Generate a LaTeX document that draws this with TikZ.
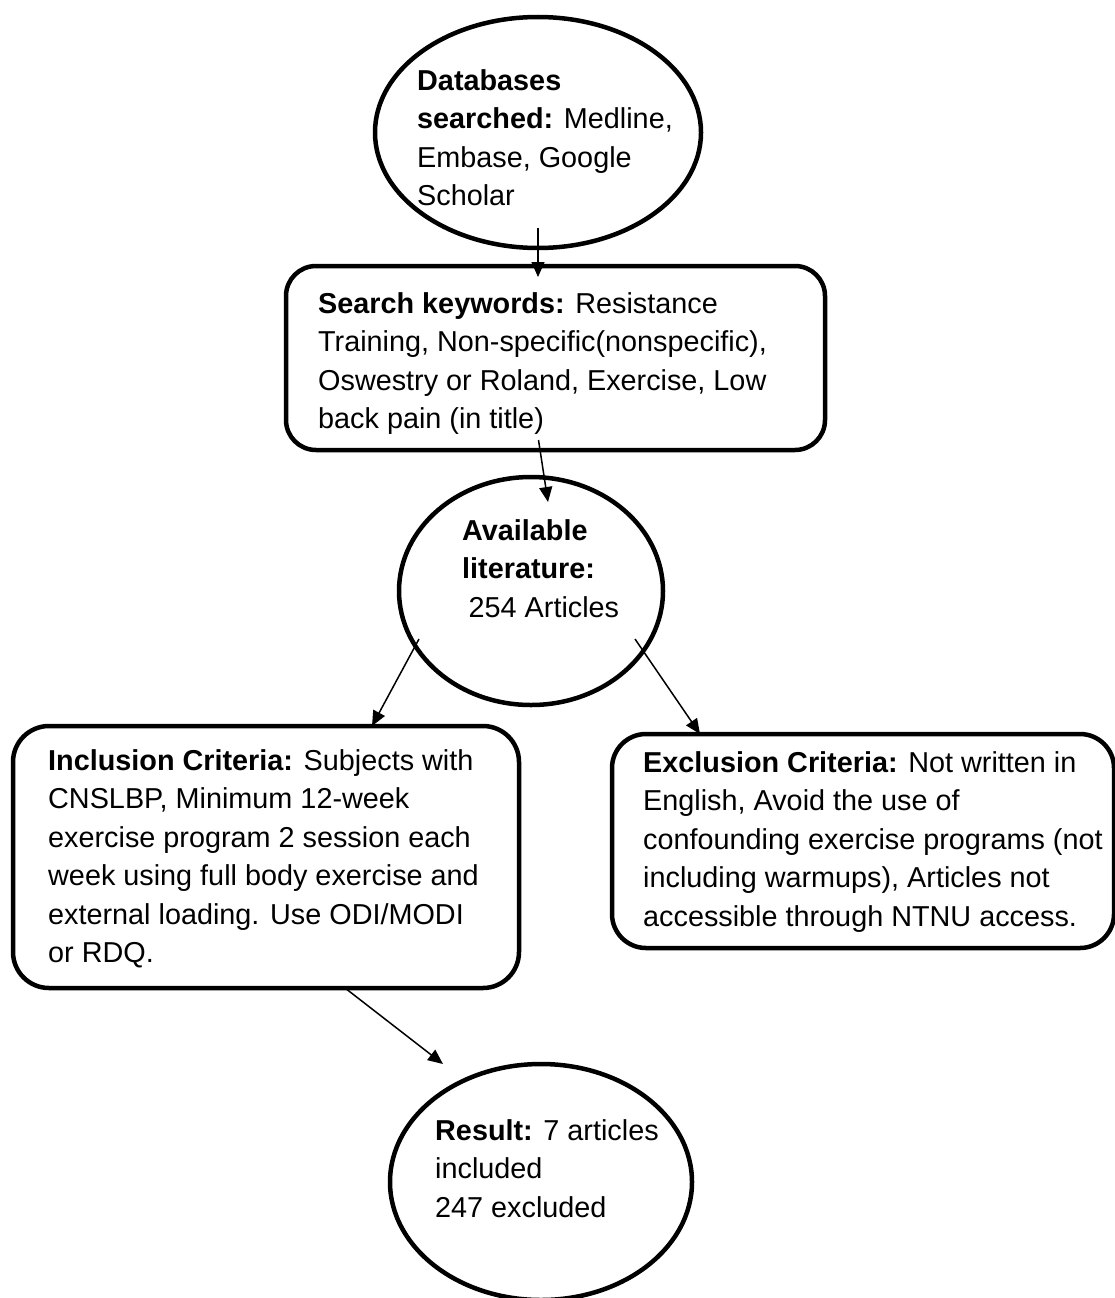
\documentclass[tikz,border=0pt]{standalone}
\usepackage{fontspec}
\setmainfont{Liberation Sans}
\usetikzlibrary{shapes.geometric, arrows.meta, positioning}
\newcommand{\flowfont}{\fontsize{28.8pt}{38.5pt}\selectfont}
\tikzset{
    oval/.style={
        ellipse,
        draw,
        line width=4.5pt,
        inner sep=0pt,
        outer sep=0pt
    },
    roundbox/.style={
        rectangle,
        rounded corners=#1,
        draw,
        line width=4.5pt,
        inner sep=0pt,
        outer sep=0pt
    },
    roundbox/.default=34pt,
    txt/.style={
        anchor=north west,
        inner sep=0pt,
        align=left,
        font=\flowfont
    },
    flow/.style={
        -{Triangle[length=15pt, width=13pt]},
        line width=1.5pt
    }
}

\begin{document}
\begin{tikzpicture}[x=1pt, y=-1pt]
    \useasboundingbox (0,0) rectangle (1115,1298);

    % Shapes
    \node (dbs) [oval, minimum width=326pt, minimum height=231pt] at (538,132.5) {};
    \node (search) [roundbox=30pt, minimum width=539pt, minimum height=184pt] at (555.5,358) {};
    \node (lit) [oval, minimum width=264pt, minimum height=228pt] at (531,591) {};
    \node (incl) [roundbox=36pt, minimum width=506pt, minimum height=262pt] at (266,857) {};
    \node (excl) [roundbox, minimum width=502pt, minimum height=214pt] at (863,841) {};
    \node (res) [oval, minimum width=302pt, minimum height=236pt] at (541,1182) {};

    % Texts
    \node (dbstext) [txt] at ([shift={(-121,-63.3)}]dbs.center)
        {\textbf{Databases}\\\textbf{searched:} Medline,\\Embase, Google\\Scholar};
    \node (searchtext) [txt] at ([shift={(32,26.2)}]search.north west)
        {\textbf{Search keywords:} Resistance\\Training, Non-specific(nonspecific),\\Oswestry or Roland, Exercise, Low\\back pain (in title)};
    \node (littext) [txt] at ([shift={(-69,-71.8)}]lit.center)
        {\textbf{Available}\\\textbf{literature:}\\\hspace*{6.5pt}254 Articles};
    \node (incltext) [txt] at ([shift={(35,23.2)}]incl.north west)
        {\textbf{Inclusion Criteria:} Subjects with\\CNSLBP, Minimum 12-week\\exercise program 2 session each\\week using full body exercise and\\external loading. Use ODI/MODI\\or RDQ.};
    \node (excltext) [txt] at ([shift={(31,17.2)}]excl.north west)
        {\textbf{Exclusion Criteria:} Not written in\\English, Avoid the use of\\confounding exercise programs (not\\including warmups), Articles not\\accessible through NTNU access.};
    \node (restext) [txt] at ([shift={(-106,-62.8)}]res.center)
        {\textbf{Result:} 7 articles\\included\\247 excluded};

    % Arrows
    \draw [flow] ([yshift=20pt]dbs.south) -- ([yshift=-11pt]dbs.south |- search.north);
    \draw [flow] ([shift={(-17,-10)}]search.south) -- ([shift={(17,25)}]lit.north);
    \draw [flow] ([shift={(-112,48)}]lit.center) -- ([xshift=106pt]incl.north);
    \draw [flow] ([shift={(104,48)}]lit.center) -- ([xshift=-163pt]excl.north);
    \draw [flow] ([xshift=79pt]incl.south) -- ([xshift=-98pt]res.north);

\end{tikzpicture}
\end{document}
